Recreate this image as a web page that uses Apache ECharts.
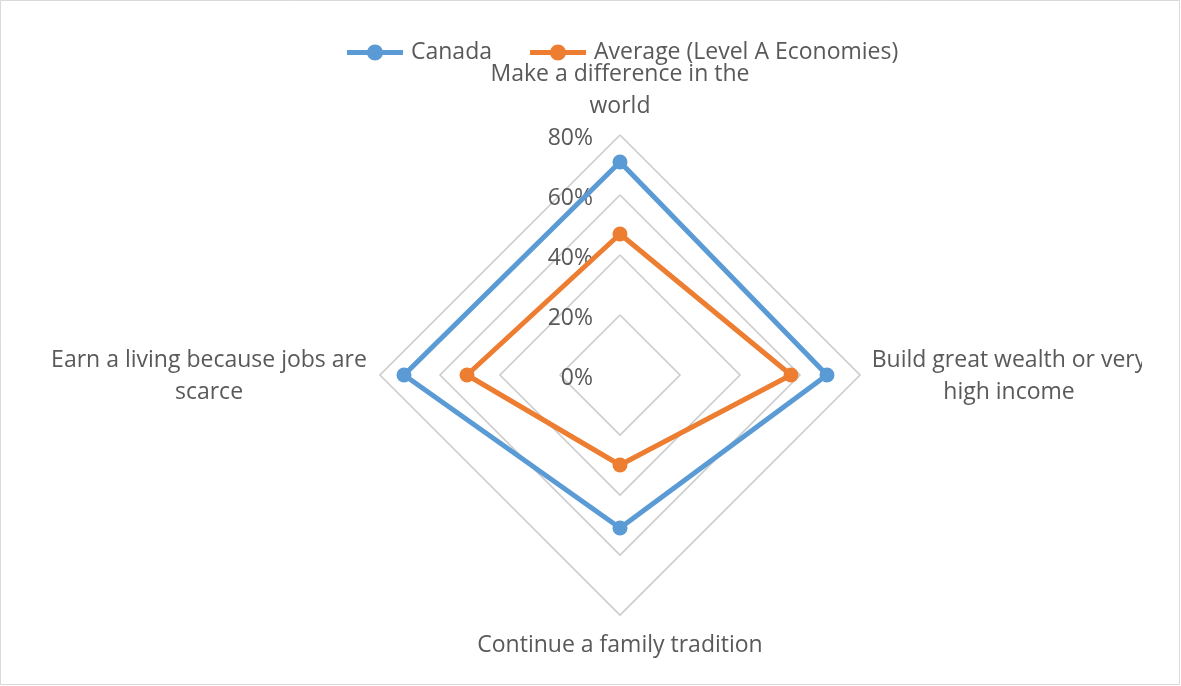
<!DOCTYPE html>
<html>
<head>
<meta charset="utf-8">
<script src="https://cdn.jsdelivr.net/npm/echarts@6/dist/echarts.min.js"></script>
<style>
  html, body { margin: 0; padding: 0; background: #fff; }
  #chart { width: 1181px; height: 686px; }
</style>
</head>
<body>
<div id="chart"></div>
<script>
// Motivations for starting a business (share of respondents)
const categories = [
  'Make a difference in the\nworld',
  'Earn a living because jobs are\nscarce',
  'Continue a family tradition',
  'Build great wealth or very\nhigh income'
];
const canadaValues = [71, 72, 51, 69];
const averageValues = [47, 51, 30, 57];
const scaleTicks = [0, 20, 40, 60, 80];

const seriesNames = ['Canada', 'Average (Level A Economies)'];
const colors = ['#5B9BD5', '#ED7D31'];
const FONT = '"Open Sans", Lato, sans-serif';
const TEXT = '#595959';
const FS = 23;

// legend icon: short line with a dot in the middle
const legendIcon = 'path://M0,5.5H21V10.5H0Z M35,5.5H56V10.5H35Z M20,8A8,8 0 1 1 36,8A8,8 0 1 1 20,8Z';

// rich-text keys so each wrapped name is centred in its own box
const nameKeys = ['t', 'l', 'b', 'r'];
const nameWidths = [290, 316, 290, 272];
const namePads = [[0, 0, 0, 0], [2, 0, 0, 0], [3, 0, 0, 0], [2, 0, 0, 0]];
const rich = {};
nameKeys.forEach((k, i) => {
  rich[k] = {
    width: nameWidths[i], align: 'center', fontSize: FS, lineHeight: 32,
    color: TEXT, fontFamily: FONT, padding: namePads[i]
  };
});

const chart = echarts.init(document.getElementById('chart'));
chart.setOption({
  backgroundColor: '#fff',
  animation: false,
  textStyle: { fontFamily: FONT },
  legend: {
    data: seriesNames.map((n, i) => ({ name: n, icon: legendIcon, itemStyle: { color: colors[i] } })),
    left: 342,
    top: 36,
    itemWidth: 56,
    itemHeight: 16,
    itemGap: 38,
    textStyle: { fontSize: FS, color: TEXT, fontFamily: FONT, padding: [0, 0, 0, 3] }
  },
  radar: {
    center: [620, 375],
    radius: 240,
    startAngle: 90,
    shape: 'polygon',
    splitNumber: 4,
    indicator: categories.map(c => ({ name: c, min: 0, max: scaleTicks[scaleTicks.length - 1] })),
    nameGap: 13,
    axisName: {
      color: TEXT,
      fontSize: FS,
      fontFamily: FONT,
      formatter: function (name) {
        const i = categories.indexOf(name);
        const k = nameKeys[i];
        return name.split('\n').map(line => '{' + k + '|' + line + '}').join('\n');
      },
      rich: rich
    },
    axisLine: { show: false },
    axisTick: { show: false },
    axisLabel: { show: false },
    splitLine: { lineStyle: { color: '#cccccc', width: 1.6 } },
    splitArea: { show: false }
  },
  // value scale printed along the vertical spoke
  grid: { left: 600, width: 1, top: 135, height: 240 },
  xAxis: { type: 'value', show: false },
  yAxis: {
    type: 'value',
    min: scaleTicks[0],
    max: scaleTicks[scaleTicks.length - 1],
    interval: 20,
    axisLine: { show: false },
    axisTick: { show: false },
    splitLine: { show: false },
    axisLabel: {
      formatter: function (v) { return '{v|' + v + '%}'; },
      margin: 7,
      rich: { v: { fontSize: FS, color: TEXT, fontFamily: FONT, padding: [6, 0, 0, 0] } }
    }
  },
  graphic: [
    {
      type: 'rect',
      shape: { x: 0.5, y: 0.5, width: 1179, height: 684 },
      style: { fill: 'none', stroke: '#d9d9d9', lineWidth: 1 },
      silent: true
    },
    {
      type: 'rect',
      z: 100,
      shape: { x: 1142, y: 340, width: 37, height: 34 },
      style: { fill: '#fff' },
      silent: true
    }
  ],
  series: [
    {
      type: 'radar',
      name: seriesNames[0],
      symbol: 'circle',
      symbolSize: 15,
      lineStyle: { color: colors[0], width: 5 },
      itemStyle: { color: colors[0] },
      data: [{ value: canadaValues, name: seriesNames[0] }]
    },
    {
      type: 'radar',
      name: seriesNames[1],
      symbol: 'circle',
      symbolSize: 15,
      lineStyle: { color: colors[1], width: 5 },
      itemStyle: { color: colors[1] },
      data: [{ value: averageValues, name: seriesNames[1] }]
    }
  ]
});
</script>
</body>
</html>
